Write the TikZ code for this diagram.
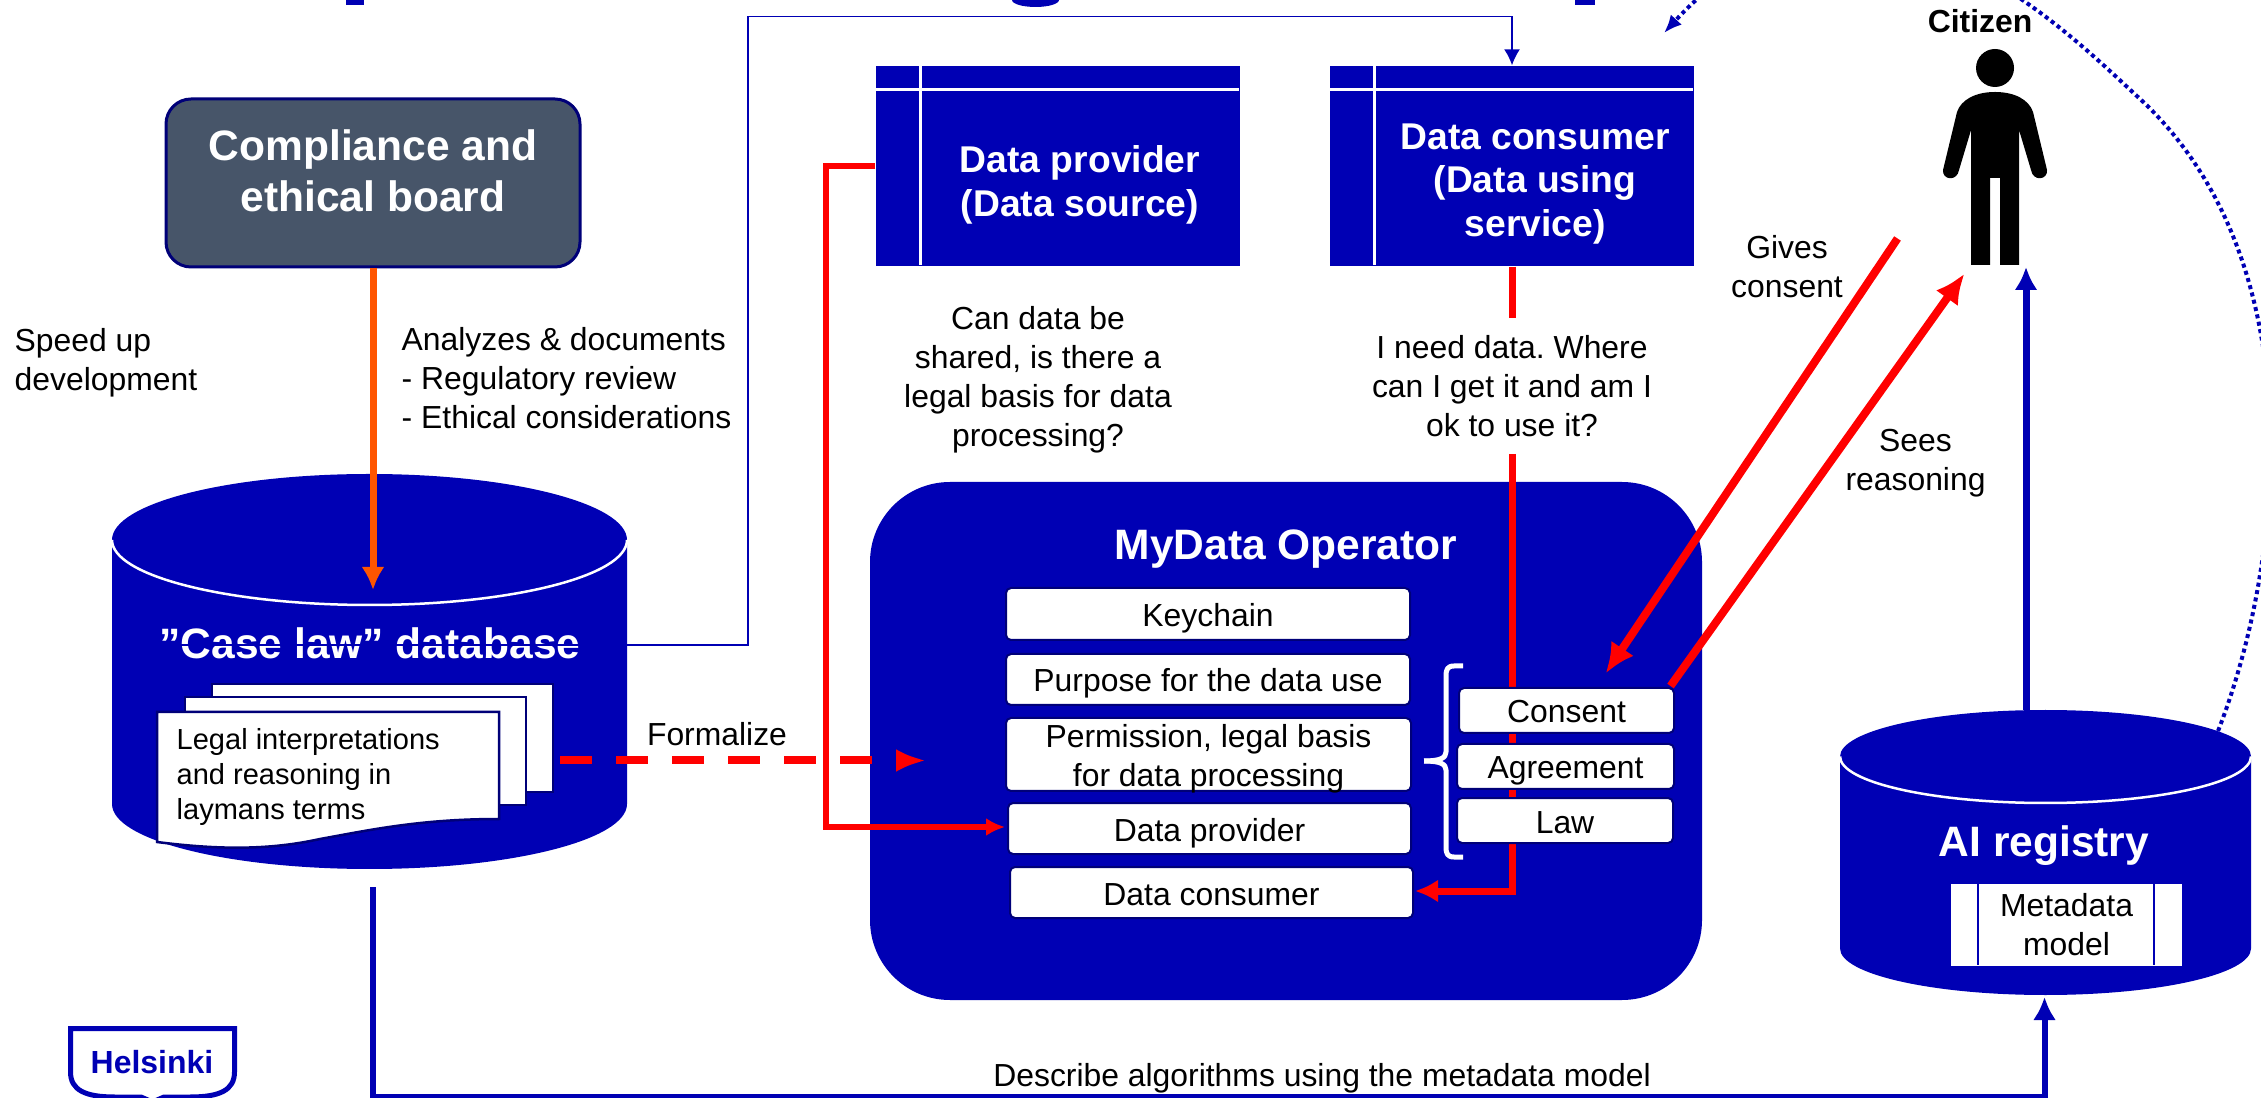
\documentclass[tikz,border=0pt]{standalone}
\usepackage{fontspec}
\setmainfont{Liberation Sans}
\frenchspacing
\usetikzlibrary{arrows.meta,calc}
\definecolor{darkblue}{RGB}{0,0,180}
\definecolor{navyedge}{RGB}{0,0,120}
\definecolor{slatebox}{RGB}{71,85,105}
\definecolor{orangeline}{RGB}{255,85,0}
\newcommand{\smalltext}{\fontsize{9.07}{11.1}\selectfont}
\newcommand{\pagetext}{\fontsize{8.26}{10}\selectfont}
\newcommand{\boxtext}{\fontsize{10.6}{12.5}\selectfont\bfseries}
\newcommand{\bigtext}{\fontsize{12.1}{14.5}\selectfont\bfseries}
\tikzset{>=latex,
  headbig/.style={-{Latex[length=0.30cm,width=0.27cm]}},
  redline/.style={draw=red, line width=0.08cm},
  redarrow/.style={redline, headbig},
  blueline/.style={draw=darkblue, line width=0.07cm},
  txt/.style={font=\smalltext, align=center, inner sep=0pt, text=black},
  title/.style={font=\bigtext, align=center, inner sep=0pt, text=white},
  subtitle/.style={font=\boxtext, align=center, inner sep=0pt, text=white},
  rolebox/.style={rectangle, fill=darkblue, minimum width=3.64cm, minimum height=2cm, inner sep=0pt},
  itembox/.style={anchor=north west, rectangle, rounded corners=0.05cm, fill=white, draw=navyedge, line width=0.02cm, font=\smalltext, align=center, inner sep=0pt, text height=0.25cm, text depth=0cm}
}
\begin{document}
\begin{tikzpicture}[>=latex]
    \path [use as bounding box, clip] (0,0) rectangle (22.61,-10.98);
    \fill [white] (0,0) rectangle (22.61,-10.98);

    % cut off heading
    \fill [darkblue] (3.46,0) rectangle (3.64,-0.05);
    \fill [darkblue] (10.12,0) arc (180:360:0.235 and 0.07);
    \fill [darkblue] (15.75,0) rectangle (15.95,-0.05);

    % board and database
    \node at (3.73,-1.83) [rectangle, rounded corners=0.25cm, fill=slatebox, draw=navyedge, line width=0.03cm, minimum width=4.14cm, minimum height=1.68cm](board){};
    \node at (board.center) [yshift=0.12cm, title](boardtitle){Compliance and\\ethical board};
    \fill [darkblue] (1.12,-5.40) arc (180:0:2.575 and 0.66) -- (6.27,-8.04) arc (0:-180:2.575 and 0.65) -- cycle;
    \draw [white, line width=0.025cm] (1.12,-5.40) arc (180:360:2.575 and 0.65);
    \coordinate (dbout) at (3.73,-8.87);
    \coordinate (dbwest) at (1.12,-6.45);
    \node at (3.7,-6.43) [title](dbtitle){”Case law” database};
    \foreach \x in {0,1}
    \draw [fill=white, draw=navyedge, line width=0.025cm] (2.12-0.27*\x,-6.84-0.13*\x) rectangle ++(3.41,-1.08);
    \draw [fill=white, draw=navyedge, line width=0.025cm] (1.57,-7.12) -- (4.99,-7.12) -- (4.99,-8.19) .. controls (4.2,-8.19) and (3.7,-8.30) .. (3.2,-8.39) .. controls (2.7,-8.50) and (2.2,-8.50) .. (1.57,-8.42) -- cycle;
    \node at (1.76,-7.77) [anchor=west, txt, font=\pagetext, align=left](pages){Legal interpretations\\and reasoning in\\laymans terms};

    % operator and role boxes
    \node at (12.86,-7.41) [rectangle, rounded corners=0.8cm, fill=darkblue, minimum width=8.32cm, minimum height=5.18cm](operator){};
    \node at (12.86,-5.49) [title](optitle){MyData Operator};
    \node at (10.58,-1.66) [rolebox](provider){};
    \node at (15.12,-1.66) [rolebox](consumer){};
    \foreach \b in {provider,consumer} {
      \draw [white, line width=0.03cm] (\b.north west) ++ (-90:0.24) --++ (0:3.64);
      \draw [white, line width=0.03cm] (\b.north west) ++ (0:0.45) --++ (-90:2);
    }
    \node at (provider.center) [xshift=0.22cm, yshift=-0.19cm, subtitle](provtitle){Data provider\\(Data source)};
    \node at (consumer.center) [xshift=0.23cm, yshift=-0.18cm, subtitle](constitle){Data consumer\\(Data using\\service)};

    % registry
    \fill [darkblue] (18.40,-7.565) arc (180:0:2.055 and 0.465) -- (22.51,-9.485) arc (0:-180:2.055 and 0.465) -- cycle;
    \draw [white, line width=0.025cm] (18.40,-7.565) arc (180:360:2.055 and 0.465);
    \coordinate (aisouth) at (20.445,-9.97);
    \node at (20.44,-8.46) [title](aititle){AI registry};
    \node at (20.665,-9.25) [rectangle, fill=white, minimum width=2.305cm, minimum height=0.82cm, inner sep=0pt, txt](meta){Metadata\\model};
    \draw [darkblue, line width=0.02cm] (meta.north west) ++ (0:0.275) --++ (-90:0.82);
    \draw [darkblue, line width=0.02cm] (meta.north east) ++ (180:0.28) --++ (-90:0.82);

    % connectors
    \draw [draw=orangeline, line width=0.07cm, -{Latex[length=0.23cm,width=0.23cm]}] (board.south) -- (3.73,-5.90);
    \draw [darkblue, line width=0.015cm, -{Latex[length=0.16cm,width=0.16cm]}] (dbwest) -- (7.48,-6.45) -- (7.48,-0.165) -- (15.12,-0.165) -- (consumer.north);
    \draw [redline, line width=0.06cm, -{Latex[length=0.19cm,width=0.18cm]}] (provider.west) -- (8.26,-1.66) -- (8.26,-8.27) -- (10.05,-8.27);
    \draw [redline, dash pattern=on 0.32cm off 0.24cm, -{Latex[length=0.30cm,width=0.23cm]}] (5.60,-7.605) -- (9.26,-7.605);
    \node at (7.17,-7.34) [txt](formalize){Formalize};

    \draw [redline, line width=0.07cm] (consumer.south) --++ (-90:0.51);
    \coordinate (opin) at (15.12,-4.54);
    \draw [redline, line width=0.07cm, -{Latex[length=0.23cm,width=0.23cm]}] (opin) -- (15.12,-8.91) -- (14.15,-8.91);

    % operator items
    \node at (10.05,-5.87) [itembox, minimum width=4.04cm, minimum height=0.52cm](keychain){Keychain};
    \node at (10.05,-6.53) [itembox, minimum width=4.04cm, minimum height=0.51cm](purpose){Purpose for the data use};
    \node at (10.05,-7.17) [itembox, minimum width=4.05cm, minimum height=0.73cm, text height=0.65cm](permission){Permission, legal basis\\for data processing};
    \node at (10.07,-8.02) [itembox, minimum width=4.03cm, minimum height=0.51cm](itemprov){Data provider};
    \node at (10.09,-8.66) [itembox, minimum width=4.03cm, minimum height=0.51cm](itemcons){Data consumer};
    \node at (14.58,-6.87) [itembox, minimum width=2.15cm, minimum height=0.45cm](consent){Consent};
    \node at (14.56,-7.43) [itembox, minimum width=2.17cm, minimum height=0.45cm](agreement){Agreement};
    \node at (14.56,-7.97) [itembox, minimum width=2.16cm, minimum height=0.45cm](law){Law};
    \draw [white, line width=0.05cm, line join=round] (14.63,-6.66) -- (14.54,-6.66) .. controls (14.47,-6.66) and (14.46,-6.70) .. (14.46,-6.76) -- (14.46,-7.52) .. controls (14.46,-7.58) and (14.40,-7.61) .. (14.24,-7.61);
    \draw [white, line width=0.05cm, line join=round] (14.24,-7.61) .. controls (14.40,-7.61) and (14.46,-7.64) .. (14.46,-7.70) -- (14.46,-8.47) .. controls (14.46,-8.53) and (14.47,-8.57) .. (14.54,-8.57) -- (14.63,-8.57);

    % citizen
    \node at (19.80,-0.21) [txt, font=\smalltext\bfseries](citizen){Citizen};
    \fill [black] (19.95,-0.68) ellipse (0.19 and 0.19);
    \fill [black] (19.95,-0.92) .. controls (20.15,-0.92) and (20.29,-1.0) .. (20.33,-1.12) -- (20.47,-1.70) .. controls (20.48,-1.80) and (20.33,-1.82) .. (20.31,-1.70) -- (20.19,-1.30) -- (20.19,-2.65) -- (20.00,-2.65) -- (20.00,-1.78) -- (19.90,-1.78) -- (19.90,-2.65) -- (19.71,-2.65) -- (19.71,-1.30) -- (19.59,-1.70) .. controls (19.57,-1.82) and (19.42,-1.80) .. (19.43,-1.70) -- (19.57,-1.12) .. controls (19.61,-1.0) and (19.75,-0.92) .. (19.95,-0.92) -- cycle;
    \draw [redarrow] (18.975,-2.385) -- (16.056,-6.735);
    \draw [redarrow] (16.705,-6.86) -- (19.645,-2.736);
    \draw [blueline, -{Latex[length=0.23cm,width=0.23cm]}] (20.26,-7.10) -- (20.26,-2.67);
    \draw [blueline, line width=0.06cm, -{Latex[length=0.23cm,width=0.23cm]}] (dbout) -- (3.73,-10.97) -- (20.445,-10.97) -- (aisouth);
    \draw [darkblue, line width=0.04cm, dash pattern=on 0.04cm off 0.035cm, -{Latex[length=0.18cm,width=0.15cm]}] (22.18,-7.31) .. controls (22.85,-5.60) and (23.15,-2.60) .. (21.39,-0.98) .. controls (20.65,-0.30) and (18.6,1.8) .. (16.64,-0.33);

    % labels
    \node at (0.14,-3.625) [anchor=west, txt, align=left](speed){Speed up\\development};
    \node at (4.01,-3.78) [anchor=west, txt, align=left](analyzes){Analyzes \& documents\\- Regulatory review\\- Ethical considerations};
    \node at (10.38,-3.80) [txt](question){Can data be\\shared, is there a\\legal basis for data\\processing?};
    \node at (15.12,-3.865) [txt](need){I need data. Where\\can I get it and am I\\ok to use it?};
    \node at (17.87,-2.67) [txt](gives){Gives\\consent};
    \node at (19.155,-4.63) [txt](sees){Sees\\reasoning};
    \node at (13.22,-10.78) [txt](describe){Describe algorithms using the metadata model};

    % logo
    \draw [darkblue, line width=0.05cm] (0.705,-10.285) -- (2.345,-10.285) -- (2.345,-10.72) .. controls (2.345,-10.90) and (2.2,-10.97) .. (1.9,-10.97) -- (1.64,-10.97) -- (1.525,-11.02) -- (1.41,-10.97) -- (1.15,-10.97) .. controls (0.85,-10.97) and (0.705,-10.90) .. (0.705,-10.72) -- cycle;
    \node at (1.52,-10.62) [txt, font=\fontsize{9.1}{11}\selectfont\bfseries, text=darkblue](helsinki){Helsinki};
\end{tikzpicture}
\end{document}
